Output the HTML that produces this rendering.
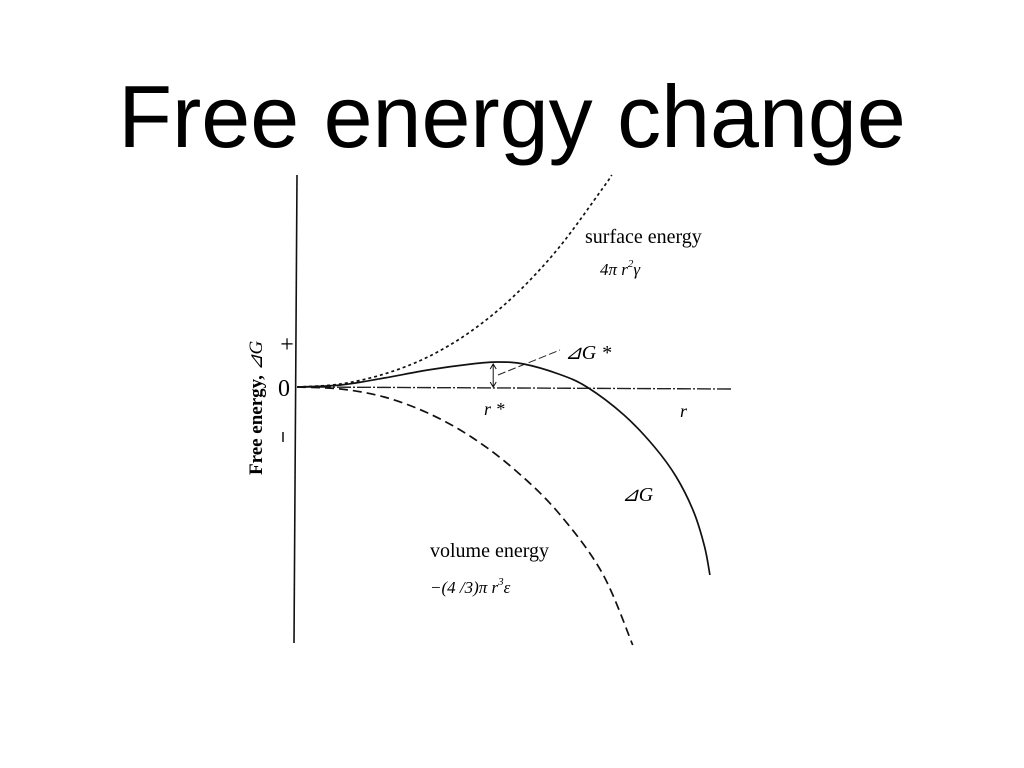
<!DOCTYPE html>
<html><head><meta charset="utf-8"><style>
body{margin:0;background:#fff;}
#wrap{position:relative;width:1024px;height:768px;overflow:hidden;}
#title{position:absolute;left:0;top:66px;width:1024px;text-align:center;font-family:"Liberation Sans",sans-serif;font-size:88px;color:#000;}
svg{position:absolute;left:0;top:0;}
</style></head><body>
<div id="wrap">
<div id="title">Free energy change</div>
<svg id="chart" width="1024" height="768"
 font-family="Liberation Serif, serif">
<line x1="297" y1="175" x2="294" y2="643" stroke="#111" stroke-width="1.6"/>
<line x1="297" y1="387" x2="733" y2="389" stroke="#222" stroke-width="1.4" stroke-dasharray="14 2 2 2"/>
<text x="0" y="0" transform="translate(262,475) rotate(-90)" font-size="19" font-weight="bold">Free energy, <tspan font-style="italic" font-weight="normal">⊿G</tspan></text>
<text x="287" y="352" font-size="24" text-anchor="middle">+</text>
<text x="284" y="396" font-size="24" text-anchor="middle">0</text>
<line x1="283" y1="432" x2="283" y2="442" stroke="#111" stroke-width="1.5"/>
<text x="585" y="243" font-size="20">surface energy</text>
<text x="600" y="275" font-size="17" font-style="italic">4π  r<tspan dy="-8" font-size="11">2</tspan><tspan dy="8">γ</tspan></text>
<text x="430" y="557" font-size="20">volume energy</text>
<text x="430" y="593" font-size="17" font-style="italic">−(4 /3)π  r<tspan dy="-8" font-size="11">3</tspan><tspan dy="8">ε</tspan></text>
<text x="565" y="359" font-size="20" font-style="italic">⊿G *</text>
<text x="622" y="501" font-size="20" font-style="italic">⊿G</text>
<text x="484" y="415" font-size="18" font-style="italic">r *</text>
<text x="680" y="417" font-size="18" font-style="italic">r</text>
<line x1="498" y1="375" x2="560" y2="350" stroke="#222" stroke-width="1" stroke-dasharray="8 3"/>
<g id="series"></g>
</svg>
</div>
<script>
const surfR=[0,1,2,3,4,5,6,7,7.22];
const surfV=[0,0.3,1.3,3.0,5.6,9.2,13.9,19.8,21.2];
const volR=[0,1,2,3,4,5,6,7,7.7];
const volV=[0,-0.2,-1.0,-2.6,-5.0,-8.3,-12.6,-18.6,-25.8];
const dgR=[0,1,2,3,4,4.6,5.2,6,6.65,7.5,8.2,8.7,9.1,9.35,9.47];
const dgV=[0,0.2,0.9,1.7,2.3,2.5,2.3,1.3,0,-2.8,-6.0,-9.0,-12.5,-16,-18.8];
const rStar=4.5, dgStar=2.5;
const xs=r=>297+r*43.6, ys=v=>387-v*10;
const g=document.getElementById('series');
const NS='http://www.w3.org/2000/svg';
function pathD(R,V){
  const p=R.map((r,i)=>[xs(r),ys(V[i])]);
  let d='M'+p[0][0]+','+p[0][1];
  for(let i=0;i<p.length-1;i++){
    const p0=p[i-1]||p[i],p1=p[i],p2=p[i+1],p3=p[i+2]||p2;
    d+=' C'+(p1[0]+(p2[0]-p0[0])/6)+','+(p1[1]+(p2[1]-p0[1])/6)+' '+(p2[0]-(p3[0]-p1[0])/6)+','+(p2[1]-(p3[1]-p1[1])/6)+' '+p2[0]+','+p2[1];
  }
  return d;
}
function add(R,V,dash,name){
  const e=document.createElementNS(NS,'path');
  e.setAttribute('d',pathD(R,V));
  e.setAttribute('fill','none');e.setAttribute('stroke','#111');
  e.setAttribute('stroke-width','1.7');
  if(dash)e.setAttribute('stroke-dasharray',dash);
  
  
  g.appendChild(e);
}
add(surfR,surfV,'3 3','surface-energy-curve');
add(volR,volV,'9 5','volume-energy-curve');
add(dgR,dgV,null,'delta-g-curve');
const a=document.createElementNS(NS,'path');
const ax=xs(rStar),ay0=ys(dgStar)+2,ay1=ys(0);
a.setAttribute('d',`M${ax},${ay0} L${ax},${ay1} M${ax-3},${ay0+5} L${ax},${ay0} L${ax+3},${ay0+5} M${ax-3},${ay1-5} L${ax},${ay1} L${ax+3},${ay1-5}`);
a.setAttribute('stroke','#111');a.setAttribute('fill','none');a.setAttribute('stroke-width','1');


g.appendChild(a);
</script>
</body></html>
